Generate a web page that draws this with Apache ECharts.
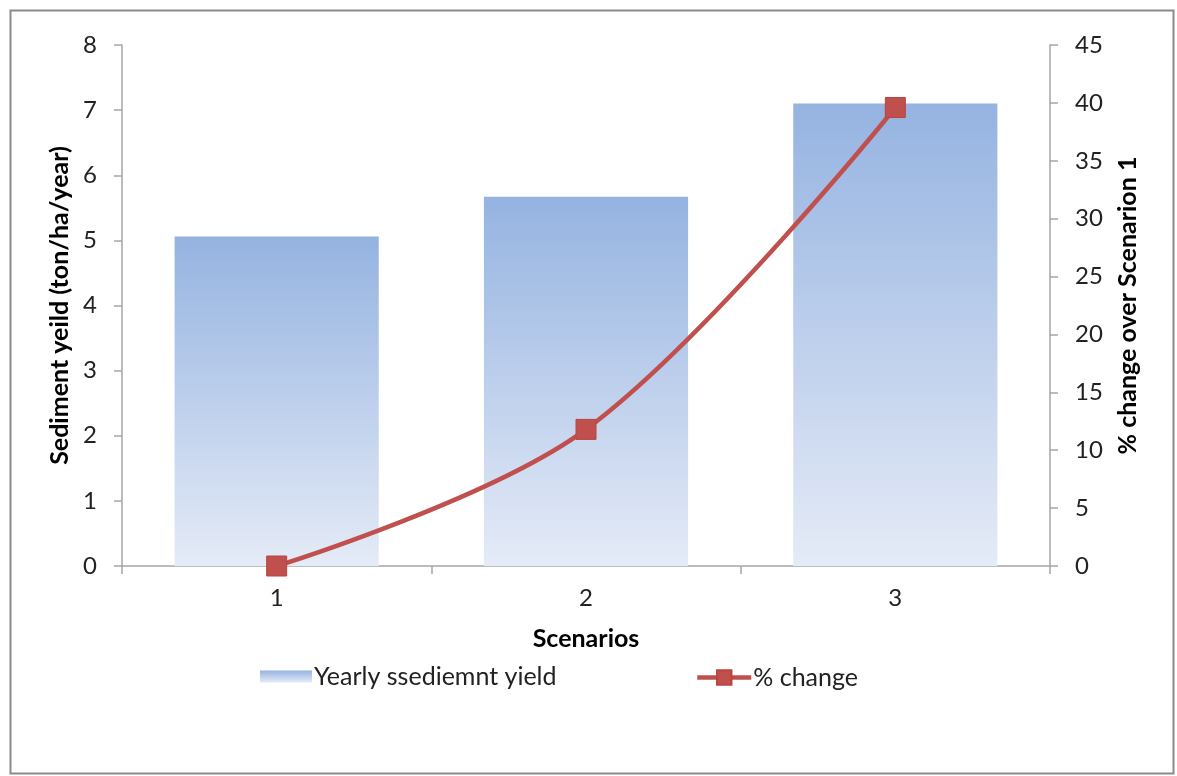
<!DOCTYPE html>
<html><head><meta charset="utf-8">
<script src="https://cdn.jsdelivr.net/npm/echarts@6/dist/echarts.min.js"></script>
<style>html,body{margin:0;padding:0;background:#fff}#c{width:1177px;height:776px}</style>
</head><body><div id="c"></div>
<script>
const categories = ['1', '2', '3'];
const sedimentYield = [5.06, 5.67, 7.10];
const pctChange = [0, 11.8, 39.6];
const leftTicks = {min: 0, max: 8, interval: 1};
const rightTicks = {min: 0, max: 45, interval: 5};
const barName = 'Yearly ssediemnt yield';
const lineName = '% change';

const FONT = 'Lato, "Open Sans", sans-serif';
const chart = echarts.init(document.getElementById('c'), null, {renderer: 'canvas'});
const axisLineStyle = {color: '#a6a6a6', width: 1.5};
const legendText = {fontFamily: FONT, fontSize: 25, color: '#222', padding: [0, 0, 0, -3]};
chart.setOption({
  animation: false,
  textStyle: {fontFamily: FONT},
  graphic: [{
    type: 'rect', left: 8, top: 8, z: -1,
    shape: {x: 0, y: 0, width: 1163, height: 763},
    style: {fill: 'none', stroke: '#8a8a8a', lineWidth: 2}
  }],
  grid: {left: 122, right: 127, top: 45, bottom: 210},
  legend: [{
    left: 255, top: 659, itemWidth: 52, itemHeight: 12,
    textStyle: legendText,
    data: [{name: barName, icon: 'rect'}]
  }, {
    left: 690, top: 660, itemWidth: 54, itemHeight: 18,
    textStyle: legendText,
    data: [{name: lineName, lineStyle: {width: 4.5, color: '#c0504d'}}]
  }],
  xAxis: {
    type: 'category', data: categories, boundaryGap: true,
    name: 'Scenarios', nameLocation: 'middle', nameGap: 60,
    nameTextStyle: {fontFamily: FONT, fontSize: 25, fontWeight: 'bold', color: '#000'},
    axisLine: {lineStyle: axisLineStyle},
    axisTick: {show: true, length: 8, lineStyle: axisLineStyle},
    axisLabel: {fontSize: 24, color: '#222', margin: 20}
  },
  yAxis: [{
    type: 'value', min: leftTicks.min, max: leftTicks.max, interval: leftTicks.interval,
    name: 'Sediment yeild (ton/ha/year)', nameLocation: 'middle', nameGap: 47, nameRotate: 90,
    nameTextStyle: {fontFamily: FONT, fontSize: 25, fontWeight: 'bold', color: '#000'},
    axisLine: {show: true, lineStyle: axisLineStyle},
    axisTick: {show: true, length: 8, lineStyle: axisLineStyle},
    axisLabel: {fontSize: 24, color: '#222', margin: 25},
    splitLine: {show: false}
  }, {
    type: 'value', position: 'right', min: rightTicks.min, max: rightTicks.max, interval: rightTicks.interval,
    name: '% change over Scenarion 1', nameLocation: 'middle', nameGap: 65, nameRotate: 90,
    nameTextStyle: {fontFamily: FONT, fontSize: 25, fontWeight: 'bold', color: '#000'},
    axisLine: {show: true, lineStyle: axisLineStyle},
    axisTick: {show: true, length: 8, lineStyle: axisLineStyle},
    axisLabel: {fontSize: 24, color: '#222', margin: 25},
    splitLine: {show: false}
  }],
  series: [{
    name: barName, type: 'bar', yAxisIndex: 0, data: sedimentYield,
    barCategoryGap: '34%',
    itemStyle: {color: new echarts.graphic.LinearGradient(0, 0, 0, 1, [
      {offset: 0, color: '#95b3e1'}, {offset: 1, color: '#e5ebf7'}])}
  }, {
    name: lineName, type: 'line', yAxisIndex: 1, data: pctChange,
    smooth: 0.35, symbol: 'rect', symbolSize: 20,
    lineStyle: {color: '#c0504d', width: 4.5},
    itemStyle: {color: '#c0504d', borderColor: '#b9443f', borderWidth: 1}
  }]
});
</script></body></html>
